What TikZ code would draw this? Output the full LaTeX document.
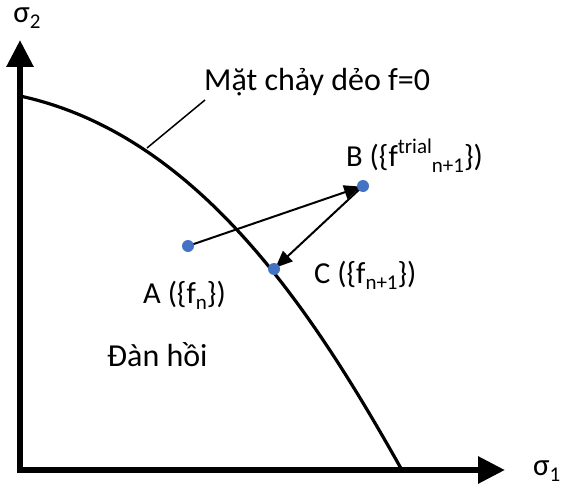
\documentclass[tikz,border=0pt]{standalone}
\usepackage{fontspec}
\setmainfont{Carlito}
\usetikzlibrary{arrows.meta}
\definecolor{dotblue}{HTML}{4472C4}
\newcommand{\mysub}[1]{\raisebox{-0.2em}{\fontsize{21}{24}\selectfont #1}}
\newcommand{\mysup}[1]{\raisebox{0.42em}{\fontsize{21}{24}\selectfont #1}}
\tikzset{
  axis/.style={line width=6pt, {Triangle[length=27pt,width=26pt]}-{Triangle[length=27pt,width=26pt]}},
  surf/.style={line width=3.2pt},
  leader/.style={line width=1.5pt},
  steparrow/.style={line width=2pt, -{Triangle[length=17pt,width=14pt]}, shorten >=2pt},
  lbl/.style={inner sep=0pt, anchor=base west, font=\fontsize{30.5}{35}\selectfont},
  biglbl/.style={inner sep=0pt, anchor=base west, font=\fontsize{32}{37}\selectfont},
}
\begin{document}
\begin{tikzpicture}[x=1pt,y=-1pt]
\useasboundingbox (0,0) rectangle (564,492);
% axes
\coordinate (Ytip) at (20,40);
\coordinate (O) at (20,470);
\coordinate (Xtip) at (505,470);
\draw[axis] (Ytip) -- (O) -- (Xtip);
\node[inner sep=0pt, font=\fontsize{31}{35}\selectfont] (s2) at (27,18) {σ\mysub{2}};
\node[inner sep=0pt, anchor=west, font=\fontsize{31}{35}\selectfont] (s1) at (533,471) {σ\mysub{1}};
% yield surface
\coordinate (P0) at (20,96);
\coordinate (P3) at (403,472);
\draw[surf] (P0) .. controls (200,135) and (315,315) .. (P3);
% leader
\coordinate (L0) at (147,148);
\coordinate (L1) at (205,100);
\draw[leader] (L0) -- (L1);
\node[biglbl] (mat) at (204,91) {Mặt chảy dẻo f=0};
% points
\coordinate (A) at (188,246);
\coordinate (B) at (363,186);
\coordinate (C) at (274,269);
\draw[steparrow] (A) -- (B);
\draw[steparrow] (B) -- (C);
\fill[dotblue] (A) circle (6pt);
\fill[dotblue] (B) circle (6pt);
\fill[dotblue] (C) circle (6pt);
\node[lbl] (Bl) at (346,166) {B (\{f\mysup{trial}\mysub{n+1}\})};
\node[lbl] (Cl) at (314,283) {C (\{f\mysub{n+1}\})};
\node[lbl] (Al) at (143,303) {A (\{f\mysub{n}\})};
\node[biglbl] (el) at (107,366) {Đàn hồi};
\end{tikzpicture}
\end{document}
